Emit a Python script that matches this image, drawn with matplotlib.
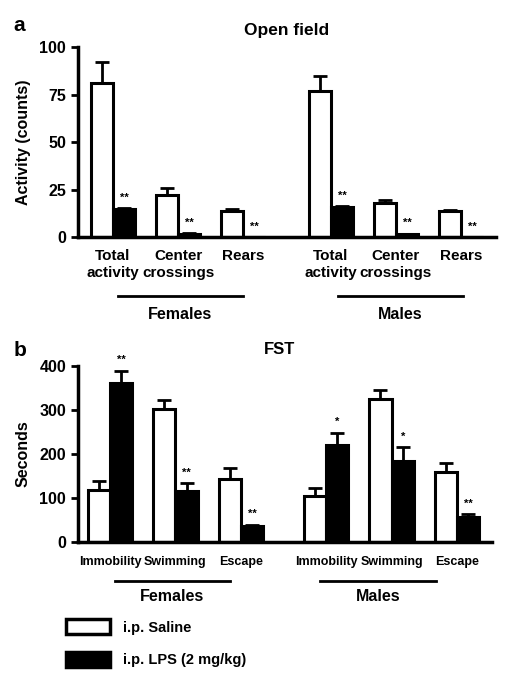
import matplotlib.pyplot as plt
from matplotlib.patches import Patch

plt.rcParams["font.family"] = ["Liberation Sans", "DejaVu Sans"]
plt.rcParams["font.weight"] = "bold"
plt.rcParams["axes.labelweight"] = "bold"

# panel a - open field
of_labels = ["Total\nactivity", "Center\ncrossings", "Rears"]
of_fem_sal = [81, 22, 13.7]
of_fem_sal_err = [11, 4, 0.8]
of_fem_lps = [14.7, 1.8, 0]
of_fem_lps_err = [0.5, 0.2, 0]
of_male_sal = [77, 17.8, 13.7]
of_male_sal_err = [8, 1.7, 0.6]
of_male_lps = [15.8, 1.5, 0]
of_male_lps_err = [0.5, 0.2, 0]
of_fem_stars = ["**", "**", "**"]
of_male_stars = ["**", "**", "**"]

# panel b - FST
fst_labels = ["Immobility", "Swimming", "Escape"]
fst_fem_sal = [118, 302, 143]
fst_fem_sal_err = [21, 21, 25]
fst_fem_lps = [361, 116, 37]
fst_fem_lps_err = [28, 18, 2]
fst_male_sal = [105, 325, 159]
fst_male_sal_err = [18, 20, 21]
fst_male_lps = [220, 184, 57]
fst_male_lps_err = [28, 31, 6]
fst_fem_stars = ["**", "**", "**"]
fst_male_stars = ["*", "*", "**"]

sexes = ["Females", "Males"]
legend_labels = ["i.p. Saline", "i.p. LPS (2 mg/kg)"]

W = 0.34
LW = 2.2


def draw_panel(ax, male_off, sal, sal_err, lps, lps_err, stars, labels, xlim, ylim, yticks,
               lbl_size, lbl_pad, lines, line_y, sex_y):
    xs = []
    for g, off in enumerate([0, male_off]):
        pos = [off + i for i in range(3)]
        xs += pos
        ax.bar([p - W / 2 for p in pos], sal[g], W, color="white", edgecolor="black",
               linewidth=LW, zorder=2)
        ax.bar([p + W / 2 for p in pos], lps[g], W, color="black", edgecolor="black",
               linewidth=LW, zorder=2)
        ax.errorbar([p - W / 2 for p in pos], sal[g], yerr=[[0] * 3, sal_err[g]], fmt="none",
                    ecolor="black", elinewidth=2, capsize=5, capthick=2, zorder=1)
        ax.errorbar([p + W / 2 for p in pos], lps[g], yerr=[[0] * 3, lps_err[g]], fmt="none",
                    ecolor="black", elinewidth=2, capsize=5, capthick=2, zorder=1)
        for p, v, e, s in zip(pos, lps[g], lps_err[g], stars[g]):
            ax.annotate(s, (p + W / 2, v + e), xytext=(0, 4), textcoords="offset points",
                        ha="center", va="bottom", fontsize=8)
        x0, x1 = lines[g]
        ax.plot([off + x0, off + x1], [line_y, line_y], color="black", lw=2,
                transform=ax.get_xaxis_transform(), clip_on=False)
        ax.text(off + (x0 + x1) / 2, sex_y, sexes[g], transform=ax.get_xaxis_transform(),
                ha="center", va="center", fontsize=11.5)
    ax.set_xticks(xs)
    ax.set_xticklabels(labels * 2, fontsize=lbl_size)
    ax.set_xlim(*xlim)
    ax.set_ylim(*ylim)
    ax.set_yticks(yticks)
    ax.tick_params(axis="y", labelsize=11.5, length=5, width=2)
    ax.tick_params(axis="x", length=0, pad=lbl_pad)
    for sp in ["top", "right"]:
        ax.spines[sp].set_visible(False)
    for sp in ["left", "bottom"]:
        ax.spines[sp].set_linewidth(2.5)


fig = plt.figure(figsize=(5.26, 6.8), dpi=100)

ax1 = fig.add_axes([0.148, 0.6515, 0.795, 0.279])
draw_panel(ax1, 3.35,
           [of_fem_sal, of_male_sal], [of_fem_sal_err, of_male_sal_err],
           [of_fem_lps, of_male_lps], [of_fem_lps_err, of_male_lps_err],
           [of_fem_stars, of_male_stars], of_labels,
           (-0.54, 5.89), (0, 100), [0, 25, 50, 75, 100], 11, 9,
           [(0.07, 2.0), (0.11, 2.03)], -0.31, -0.41)
ax1.set_ylabel("Activity (counts)", fontsize=11.5, labelpad=6)
ax1.text(0.5, 1.09, "Open field", transform=ax1.transAxes, ha="center", va="center",
         fontsize=12.5)
fig.text(0.026, 0.963, "a", fontsize=15, va="center")

ax2 = fig.add_axes([0.148, 0.203, 0.787, 0.259])
draw_panel(ax2, 3.30,
           [fst_fem_sal, fst_male_sal], [fst_fem_sal_err, fst_male_sal_err],
           [fst_fem_lps, fst_male_lps], [fst_fem_lps_err, fst_male_lps_err],
           [fst_fem_stars, fst_male_stars], fst_labels,
           (-0.49, 5.83), (0, 400), [0, 100, 200, 300, 400], 9, 10,
           [(0.08, 1.83), (-0.09, 1.68)], -0.22, -0.31)
ax2.set_ylabel("Seconds", fontsize=11.5, labelpad=6)
ax2.text(0.486, 1.09, "FST", transform=ax2.transAxes, ha="center", va="center",
         fontsize=12)
fig.text(0.026, 0.485, "b", fontsize=15, va="center")

handles = [Patch(facecolor="white", edgecolor="black", linewidth=2.5),
           Patch(facecolor="black", edgecolor="black", linewidth=2.5)]
fig.legend(handles, legend_labels, loc="upper left", bbox_to_anchor=(0.115, 0.098),
           frameon=False, fontsize=10.5, handlelength=3.0, handleheight=1.2,
           labelspacing=1.2, handletextpad=0.9, borderaxespad=0)

fig.savefig("out.png", dpi=100)
